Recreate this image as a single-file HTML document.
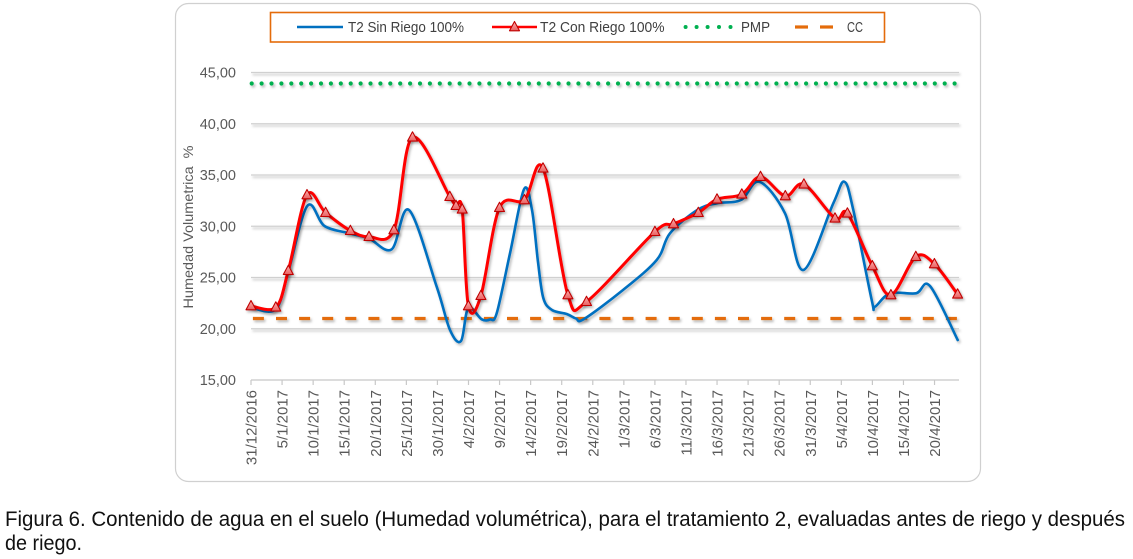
<!DOCTYPE html>
<html><head><meta charset="utf-8"><style>
html,body{margin:0;padding:0;background:#fff;}
svg{display:block;font-family:"Liberation Sans",Arial,sans-serif;}
</style></head><body>
<svg id="s" width="1133" height="559" viewBox="0 0 1133 559" xmlns="http://www.w3.org/2000/svg">
<defs>
<filter id="sh" filterUnits="userSpaceOnUse" x="0" y="0" width="1133" height="559">
<feDropShadow dx="1.5" dy="2" stdDeviation="1.2" flood-color="#000" flood-opacity="0.28"/>
</filter>
<linearGradient id="tg" x1="0" y1="0" x2="0" y2="1"><stop offset="0" stop-color="#ffb0b0"/><stop offset="1" stop-color="#e86060"/></linearGradient>
<path id="tri" d="M0,-5.5 L5,3.8 L-5,3.8Z" fill="url(#tg)" stroke="#c00000" stroke-width="1.1" stroke-linejoin="round"/>
</defs>
<rect x="0" y="0" width="1133" height="559" fill="#fff"/>
<rect x="175.5" y="3.5" width="805" height="478" rx="13" ry="13" fill="#fff" stroke="#d0d0d0" stroke-width="1.2"/>

<!-- gridlines -->
<g stroke="#d0d0d0" stroke-width="1.2" filter="url(#sh)">
<line x1="251" y1="72.5" x2="959" y2="72.5"/>
<line x1="251" y1="123.75" x2="959" y2="123.75"/>
<line x1="251" y1="175" x2="959" y2="175"/>
<line x1="251" y1="226.25" x2="959" y2="226.25"/>
<line x1="251" y1="277.5" x2="959" y2="277.5"/>
<line x1="251" y1="328.75" x2="959" y2="328.75"/>
</g>
<line x1="251" y1="380" x2="959" y2="380" stroke="#c8c8c8" stroke-width="1.2"/>
<g id="ticks" stroke="#c8c8c8" stroke-width="1.2"></g>

<!-- y labels -->
<g fill="#595959" font-size="14.5" text-anchor="end">
<text x="236" y="77.5">45,00</text>
<text x="236" y="128.75">40,00</text>
<text x="236" y="180">35,00</text>
<text x="236" y="231.25">30,00</text>
<text x="236" y="282.5">25,00</text>
<text x="236" y="333.75">20,00</text>
<text x="236" y="385">15,00</text>
</g>
<text transform="translate(193,227) rotate(-90)" fill="#595959" font-size="14" text-anchor="middle" textLength="163" lengthAdjust="spacingAndGlyphs">Humedad Volumetrica&#160; %</text>

<!-- x labels -->
<g fill="#595959" font-size="15" text-anchor="end">
<text transform="translate(256.5,390) rotate(-90)">31/12/2016</text>
<text transform="translate(287.6,390) rotate(-90)">5/1/2017</text>
<text transform="translate(318.6,390) rotate(-90)">10/1/2017</text>
<text transform="translate(349.7,390) rotate(-90)">15/1/2017</text>
<text transform="translate(380.8,390) rotate(-90)">20/1/2017</text>
<text transform="translate(411.8,390) rotate(-90)">25/1/2017</text>
<text transform="translate(442.9,390) rotate(-90)">30/1/2017</text>
<text transform="translate(474,390) rotate(-90)">4/2/2017</text>
<text transform="translate(505.1,390) rotate(-90)">9/2/2017</text>
<text transform="translate(536.1,390) rotate(-90)">14/2/2017</text>
<text transform="translate(567.2,390) rotate(-90)">19/2/2017</text>
<text transform="translate(598.3,390) rotate(-90)">24/2/2017</text>
<text transform="translate(629.3,390) rotate(-90)">1/3/2017</text>
<text transform="translate(660.4,390) rotate(-90)">6/3/2017</text>
<text transform="translate(691.5,390) rotate(-90)">11/3/2017</text>
<text transform="translate(722.5,390) rotate(-90)">16/3/2017</text>
<text transform="translate(753.6,390) rotate(-90)">21/3/2017</text>
<text transform="translate(784.7,390) rotate(-90)">26/3/2017</text>
<text transform="translate(815.8,390) rotate(-90)">31/3/2017</text>
<text transform="translate(846.8,390) rotate(-90)">5/4/2017</text>
<text transform="translate(877.9,390) rotate(-90)">10/4/2017</text>
<text transform="translate(909,390) rotate(-90)">15/4/2017</text>
<text transform="translate(940,390) rotate(-90)">20/4/2017</text>
</g>

<!-- PMP & CC -->
<g filter="url(#sh)">
<line x1="251.7" y1="83.5" x2="960" y2="83.5" stroke="#00b050" stroke-width="4.2" stroke-linecap="round" stroke-dasharray="0 9.9"/>
<line x1="251" y1="318.5" x2="959" y2="318.5" stroke="#e46c0a" stroke-width="3.3" stroke-dasharray="11 12.1" stroke-dashoffset="-1.9"/>
</g>

<!-- series -->
<path id="blue" fill="none" stroke="#0070c0" stroke-width="2.6" stroke-linejoin="round" stroke-linecap="round" filter="url(#sh)" d="M251,307.5 L275.5,309.5 L288,273 L307.3,206 L324.5,226 L349.3,233.3 L369,238.5 L391.7,249.3 L409,210 L436.7,286.7 L450,330 L461,341 L468.3,308 L481.7,319.3 L490,319.5 L496.7,313.3 L510,253.3 L524,189.3 L532,210 L538,262 L543.3,298 L552,310 L566.7,314 L576,318.5 L584,319 L623,290 L656.7,260 L670,233.3 L697.3,210 L716.7,203.3 L741,200 L759.3,181.7 L785,213.3 L803.3,270 L833.3,203.3 L844.3,181.7 L853.3,210 L871.7,300 L875,306.7 L890,293.3 L916,293.3 L930,286 L957.7,340"/>
<path id="red" fill="none" stroke="#ff0000" stroke-width="3" stroke-linejoin="round" stroke-linecap="round" filter="url(#sh)" d="M251,306 L275.8,307.3 L288.3,270.7 L307,195 L325.6,212.7 L350.4,230.7 L369,236.7 L393.9,230 L412.5,137.3 L449.8,196.7 L456,205.7 L462.2,209.3 L468.4,306 L480.9,295.7 L499.5,207.7 L524.4,200 L543,168.3 L567.9,295 L586.5,301.7 L654.9,231.7 L673.5,224 L698.3,212.7 L717,199.3 L741.8,194.3 L760.5,176.7 L785.3,196 L803.9,184.3 L835,218.3 L847.4,213.3 L872.3,266 L890.9,295 L915.8,256.7 L934.4,264 L957.6,294.3"/>
<g id="marks" filter="url(#sh)">
<use href="#tri" x="251" y="306"/><use href="#tri" x="275.8" y="307.3"/><use href="#tri" x="288.3" y="270.7"/><use href="#tri" x="307" y="195"/><use href="#tri" x="325.6" y="212.7"/><use href="#tri" x="350.4" y="230.7"/><use href="#tri" x="369" y="236.7"/><use href="#tri" x="393.9" y="230"/><use href="#tri" x="412.5" y="137.3"/><use href="#tri" x="449.8" y="196.7"/><use href="#tri" x="456" y="205.7"/><use href="#tri" x="462.2" y="209.3"/><use href="#tri" x="468.4" y="306"/><use href="#tri" x="480.9" y="295.7"/><use href="#tri" x="499.5" y="207.7"/><use href="#tri" x="524.4" y="200"/><use href="#tri" x="543" y="168.3"/><use href="#tri" x="567.9" y="295"/><use href="#tri" x="586.5" y="301.7"/><use href="#tri" x="654.9" y="231.7"/><use href="#tri" x="673.5" y="224"/><use href="#tri" x="698.3" y="212.7"/><use href="#tri" x="717" y="199.3"/><use href="#tri" x="741.8" y="194.3"/><use href="#tri" x="760.5" y="176.7"/><use href="#tri" x="785.3" y="196"/><use href="#tri" x="803.9" y="184.3"/><use href="#tri" x="835" y="218.3"/><use href="#tri" x="847.4" y="213.3"/><use href="#tri" x="872.3" y="266"/><use href="#tri" x="890.9" y="295"/><use href="#tri" x="915.8" y="256.7"/><use href="#tri" x="934.4" y="264"/><use href="#tri" x="957.6" y="294.3"/>
</g>

<!-- legend -->
<rect x="270.5" y="12.5" width="614" height="29.5" fill="#fff" stroke="#e46c0a" stroke-width="1.6"/>
<line x1="297" y1="27" x2="343" y2="27" stroke="#0070c0" stroke-width="2.6"/>
<text x="348" y="32" font-size="15" fill="#404040" textLength="116" lengthAdjust="spacingAndGlyphs">T2 Sin Riego 100%</text>
<line x1="492" y1="27" x2="537" y2="27" stroke="#ff0000" stroke-width="2.6"/>
<use href="#tri" x="514.5" y="27"/>
<text x="540" y="32" font-size="15" fill="#404040" textLength="124.5" lengthAdjust="spacingAndGlyphs">T2 Con Riego 100%</text>
<g fill="#00b050"><circle cx="685.6" cy="27" r="2"/><circle cx="696.6" cy="27" r="2"/><circle cx="707.6" cy="27" r="2"/><circle cx="719" cy="27" r="2"/><circle cx="730.5" cy="27" r="2"/></g>
<text x="741" y="32" font-size="15" fill="#404040" textLength="29" lengthAdjust="spacingAndGlyphs">PMP</text>
<line x1="795" y1="27" x2="808" y2="27" stroke="#e46c0a" stroke-width="3.2"/>
<line x1="820" y1="27" x2="833" y2="27" stroke="#e46c0a" stroke-width="3.2"/>
<text x="847" y="32" font-size="15" fill="#404040" textLength="16" lengthAdjust="spacingAndGlyphs">CC</text>

<!-- caption -->
<text x="5" y="526" font-size="21" fill="#111" textLength="1120" lengthAdjust="spacingAndGlyphs">Figura 6. Contenido de agua en el suelo (Humedad volumétrica), para el tratamiento 2, evaluadas antes de riego y después</text>
<text x="5" y="550" font-size="21" fill="#111" textLength="77" lengthAdjust="spacingAndGlyphs">de riego.</text>
</svg>
<script>
(function(){
  function smooth(id){
    var el=document.getElementById(id);
    var d=el.getAttribute('d').replace(/[ML]/g,' ').trim().split(/\s+/);
    var p=d.map(function(s){var a=s.split(',');return [parseFloat(a[0]),parseFloat(a[1])];});
    var out='M'+p[0][0]+','+p[0][1];
    for(var i=0;i<p.length-1;i++){
      var p0=p[i-1]||p[i],p1=p[i],p2=p[i+1],p3=p[i+2]||p[i+1];
      var c1x=p1[0]+(p2[0]-p0[0])/6,c1y=p1[1]+(p2[1]-p0[1])/6;
      var c2x=p2[0]-(p3[0]-p1[0])/6,c2y=p2[1]-(p3[1]-p1[1])/6;
      out+=' C'+c1x.toFixed(2)+','+c1y.toFixed(2)+' '+c2x.toFixed(2)+','+c2y.toFixed(2)+' '+p2[0]+','+p2[1];
    }
    el.setAttribute('d',out);
  }
  smooth('blue');smooth('red');
  var g=document.getElementById('ticks'),ns='http://www.w3.org/2000/svg';
  for(var i=0;i<23;i++){
    var x=251+i*31.07;
    var l=document.createElementNS(ns,'line');
    l.setAttribute('x1',x);l.setAttribute('x2',x);l.setAttribute('y1',380);l.setAttribute('y2',385);
    g.appendChild(l);
  }
})();
</script>
</body></html>
